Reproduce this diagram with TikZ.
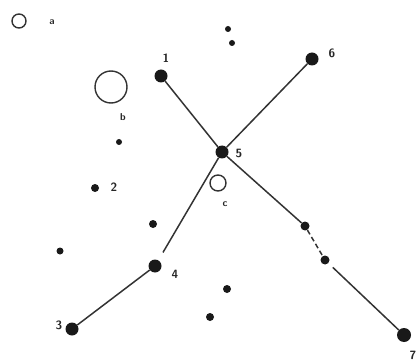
\documentclass[tikz,border=0pt]{standalone}
\usepackage{tikz}
\usetikzlibrary{arrows.meta,positioning,calc}

\begin{document}
\begin{tikzpicture}[
    x=1pt, y=-1pt,
    font=\sffamily\bfseries,
    big/.style={circle, fill=black!90, inner sep=0pt, minimum size=13pt},
    small/.style={circle, fill=black!90, inner sep=0pt, minimum size=7pt},
    ring/.style={circle, draw=black!80, line width=1.4pt, inner sep=0pt},
    lbl/.style={inner sep=1pt, text=black!85},
    edge/.style={line width=1.5pt, black!80},
    gap/.style={edge, dashed, dash pattern=on 5pt off 3pt}
  ]
  \useasboundingbox (0,0) rectangle (419,363);

  % ---------- open circles -------------------------------------------------
  \node[ring, minimum size=14pt] (ca) at (19,21)  {};
  \node[ring, minimum size=32pt] (cb) at (111,87) {};
  \node[ring, minimum size=16pt] (cc) at (218,183) {};
  \node[lbl, font=\sffamily\bfseries] at (52,22)  {a};
  \node[lbl, font=\sffamily\bfseries] at (123,117) {b};
  \node[lbl, font=\sffamily\bfseries] at (225,204) {c};

  % ---------- numbered points ----------------------------------------------
  \node[big] (p1) at (161,76)  {};
  \node[big] (p3) at (72,329)  {};
  \node[big] (p4) at (155,266) {};
  \node[big] (p5) at (222,152) {};
  \node[big] (p6) at (312,59)  {};
  \node[big, minimum size=14pt] (p7) at (404,335) {};
  \node[small, minimum size=8pt] (p2) at (95,188) {};

  \node[lbl] at (166,58)  {\large 1};
  \node[lbl] at (114,187) {\large 2};
  \node[lbl] at (59,325)  {\large 3};
  \node[lbl] at (175,274) {\large 4};
  \node[lbl] at (239,153) {\large 5};
  \node[lbl] at (332,53)  {\large 6};
  \node[lbl] at (413,355) {\large 7};

  % ---------- unlabelled points --------------------------------------------
  \node[small, minimum size=6pt] (s1) at (119,142) {};
  \node[small, minimum size=6pt] (s2) at (228,29)  {};
  \node[small, minimum size=6pt] (s3) at (232,43)  {};
  \node[small, minimum size=8pt] (s4) at (153,224) {};
  \node[small, minimum size=7pt] (s5) at (60,251)  {};
  \node[small, minimum size=8pt] (s6) at (227,289) {};
  \node[small, minimum size=8pt] (s7) at (210,317) {};
  \node[small, minimum size=9pt] (s8) at (305,226) {};
  \node[small, minimum size=9pt] (s9) at (325,260) {};

  % ---------- connections --------------------------------------------------
  \draw[edge] (p1) -- (p5);
  \draw[edge] (p5) -- (p6);
  \draw[edge, shorten >=9pt] (p5) -- (p4);
  \draw[edge] (p4) -- (p3);
  \draw[edge] (p5) -- (s8);
  \draw[gap] (s8) -- (s9);
  \draw[edge, shorten <=6pt] (s9) -- (p7);

\end{tikzpicture}
\end{document}
